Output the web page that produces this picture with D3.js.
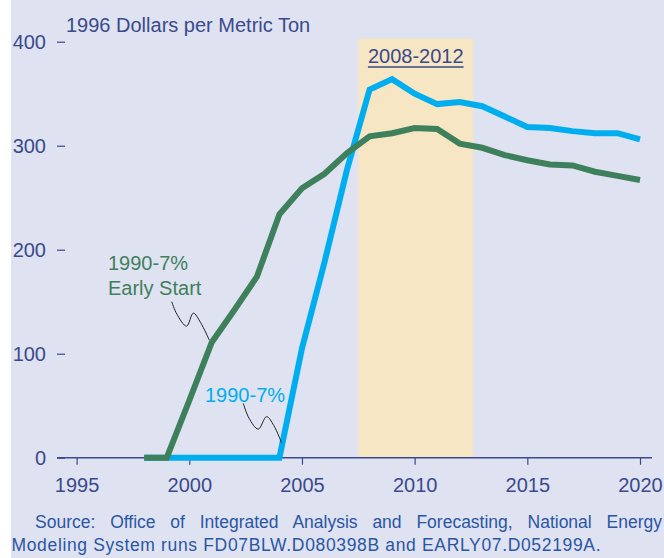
<!DOCTYPE html>
<html>
<head>
<meta charset="utf-8">
<script src="https://cdn.jsdelivr.net/npm/d3@7"></script>
<style>
  html, body { margin: 0; padding: 0; background: #ffffff; }
  svg { display: block; }
</style>
</head>
<body>
<div id="chart"></div>
<script>
// Data
const years = [1998, 1999, 2000, 2001, 2002, 2003, 2004, 2005, 2006, 2007, 2008, 2009, 2010, 2011, 2012, 2013, 2014, 2015, 2016, 2017, 2018, 2019, 2020];
const baseCase = [0, 0, 0, 0, 0, 0, 0, 105, 188, 277, 354, 364, 350, 340, 342, 338, 328, 318, 317, 314, 312, 312, 306];
const earlyStart = [0, 0, 55, 111, 142, 174, 234, 259, 273, 293, 309, 312, 317, 316, 302, 298, 291, 286, 282, 281, 275, 271, 267];
const xTicks = [1995, 2000, 2005, 2010, 2015, 2020];
const yTicks = [0, 100, 200, 300, 400];
const band = [2007.5, 2012.6];
const bandLabel = "2008-2012";
const yTitle = "1996 Dollars per Metric Ton";
const sourceLines = [
  "Source: Office of Integrated Analysis and Forecasting, National Energy",
  "Modeling System runs FD07BLW.D080398B and EARLY07.D052199A."
];
// leader squiggles, in data units (year, value)
const earlyLeader = [[1999.22, 150], [1999.45, 138], [1999.88, 126.5], [2000.18, 139], [2000.5, 130], [2000.89, 113]];
const baseLeader = [[2002.4, 52], [2002.65, 38], [2003.06, 27.5], [2003.43, 39.5], [2003.75, 31], [2004.1, 14]];

const width = 664;
const height = 558;
const ink = "#3a4a8c";
const blue = "#00aeef";
const green = "#3f805c";
const font = "'Liberation Sans', Arial, sans-serif";

const svg = d3.select("#chart")
  .append("svg")
  .attr("width", width)
  .attr("height", height)
  .style("font-family", font);

// panel background (a thin white strip is left on the left edge)
svg.append("rect")
  .attr("x", 11).attr("y", 0)
  .attr("width", width - 11).attr("height", height)
  .attr("fill", "#dfe2f1");

const x = d3.scaleLinear().domain([1995, 2020]).range([76.6, 640]);
const y = d3.scaleLinear().domain([0, 400]).range([457.7, 41.7]);

// shaded commitment period
svg.append("rect")
  .attr("x", x(band[0]))
  .attr("y", y(403))
  .attr("width", x(band[1]) - x(band[0]))
  .attr("height", y(0) - y(403))
  .attr("fill", "#f7e6c3");

const bandText = svg.append("text")
  .attr("x", x((band[0] + band[1]) / 2))
  .attr("y", 63)
  .attr("text-anchor", "middle")
  .attr("font-size", 20)
  .attr("fill", ink)
  .text(bandLabel);
const bb = bandText.node().getBBox();
svg.append("line")
  .attr("x1", bb.x).attr("x2", bb.x + bb.width)
  .attr("y1", 67).attr("y2", 67)
  .attr("stroke", ink).attr("stroke-width", 1.5);

// x axis: long base line, ticks hanging below
svg.append("line")
  .attr("x1", 57).attr("x2", 652)
  .attr("y1", y(0)).attr("y2", y(0))
  .attr("stroke", ink).attr("stroke-width", 1.5);

const xAxis = svg.append("g")
  .attr("transform", `translate(0,${y(0)})`)
  .call(d3.axisBottom(x).tickValues(xTicks).tickFormat(d3.format("d")).tickSize(7).tickSizeOuter(0));
xAxis.select(".domain").remove();
xAxis.selectAll(".tick line").attr("stroke", ink).attr("stroke-width", 1.2);
xAxis.selectAll(".tick text")
  .attr("fill", ink)
  .attr("font-size", 20)
  .attr("font-family", font)
  .attr("y", 0)
  .attr("dy", 34);

// y axis: only short ticks and labels, no spine
const yAxis = svg.append("g")
  .attr("transform", "translate(65,0)")
  .call(d3.axisLeft(y).tickValues(yTicks).tickSize(8).tickPadding(11).tickSizeOuter(0));
yAxis.select(".domain").remove();
yAxis.selectAll(".tick line").attr("stroke", ink).attr("stroke-width", 1.2);
yAxis.selectAll(".tick text")
  .attr("fill", ink)
  .attr("font-size", 20)
  .attr("font-family", font)
  .attr("dy", "0.36em");

svg.append("text")
  .attr("x", 66).attr("y", 32)
  .attr("font-size", 20)
  .attr("fill", ink)
  .text(yTitle);

// the two price paths
const line = d3.line()
  .x(d => x(d[0]))
  .y(d => y(d[1]));

svg.append("path")
  .datum(years.map((yr, i) => [yr, baseCase[i]]))
  .attr("d", line)
  .attr("fill", "none")
  .attr("stroke", blue)
  .attr("stroke-width", 6);

svg.append("path")
  .datum(years.map((yr, i) => [yr, earlyStart[i]]))
  .attr("d", line)
  .attr("fill", "none")
  .attr("stroke", green)
  .attr("stroke-width", 6);

// labels with wiggly leaders
const leader = d3.line()
  .x(d => x(d[0]))
  .y(d => y(d[1]))
  .curve(d3.curveCatmullRom.alpha(0.5));

[earlyLeader, baseLeader].forEach(pts => {
  svg.append("path")
    .attr("d", leader(pts))
    .attr("fill", "none")
    .attr("stroke", "#222")
    .attr("stroke-width", 1);
});

const earlyLbl = svg.append("text")
  .attr("font-size", 20)
  .attr("fill", green);
earlyLbl.append("tspan").attr("x", 108).attr("y", 270).text("1990-7%");
earlyLbl.append("tspan").attr("x", 108).attr("y", 295).text("Early Start");

svg.append("text")
  .attr("x", 205).attr("y", 402)
  .attr("font-size", 20)
  .attr("fill", blue)
  .text("1990-7%");

// source note, first line justified to the right edge
const src1 = svg.append("text")
  .attr("x", 35).attr("y", 528)
  .attr("font-size", 17.5)
  .attr("fill", "#2a56a3")
  .text(sourceLines[0]);
const natural = src1.node().getComputedTextLength();
const gaps = sourceLines[0].split(" ").length - 1;
src1.attr("word-spacing", (662 - 35 - natural) / gaps);

svg.append("text")
  .attr("x", 11.5).attr("y", 551)
  .attr("font-size", 17.5)
  .attr("fill", "#2a56a3")
  .attr("textLength", 589)
  .attr("lengthAdjust", "spacing")
  .text(sourceLines[1]);
</script>
</body>
</html>
